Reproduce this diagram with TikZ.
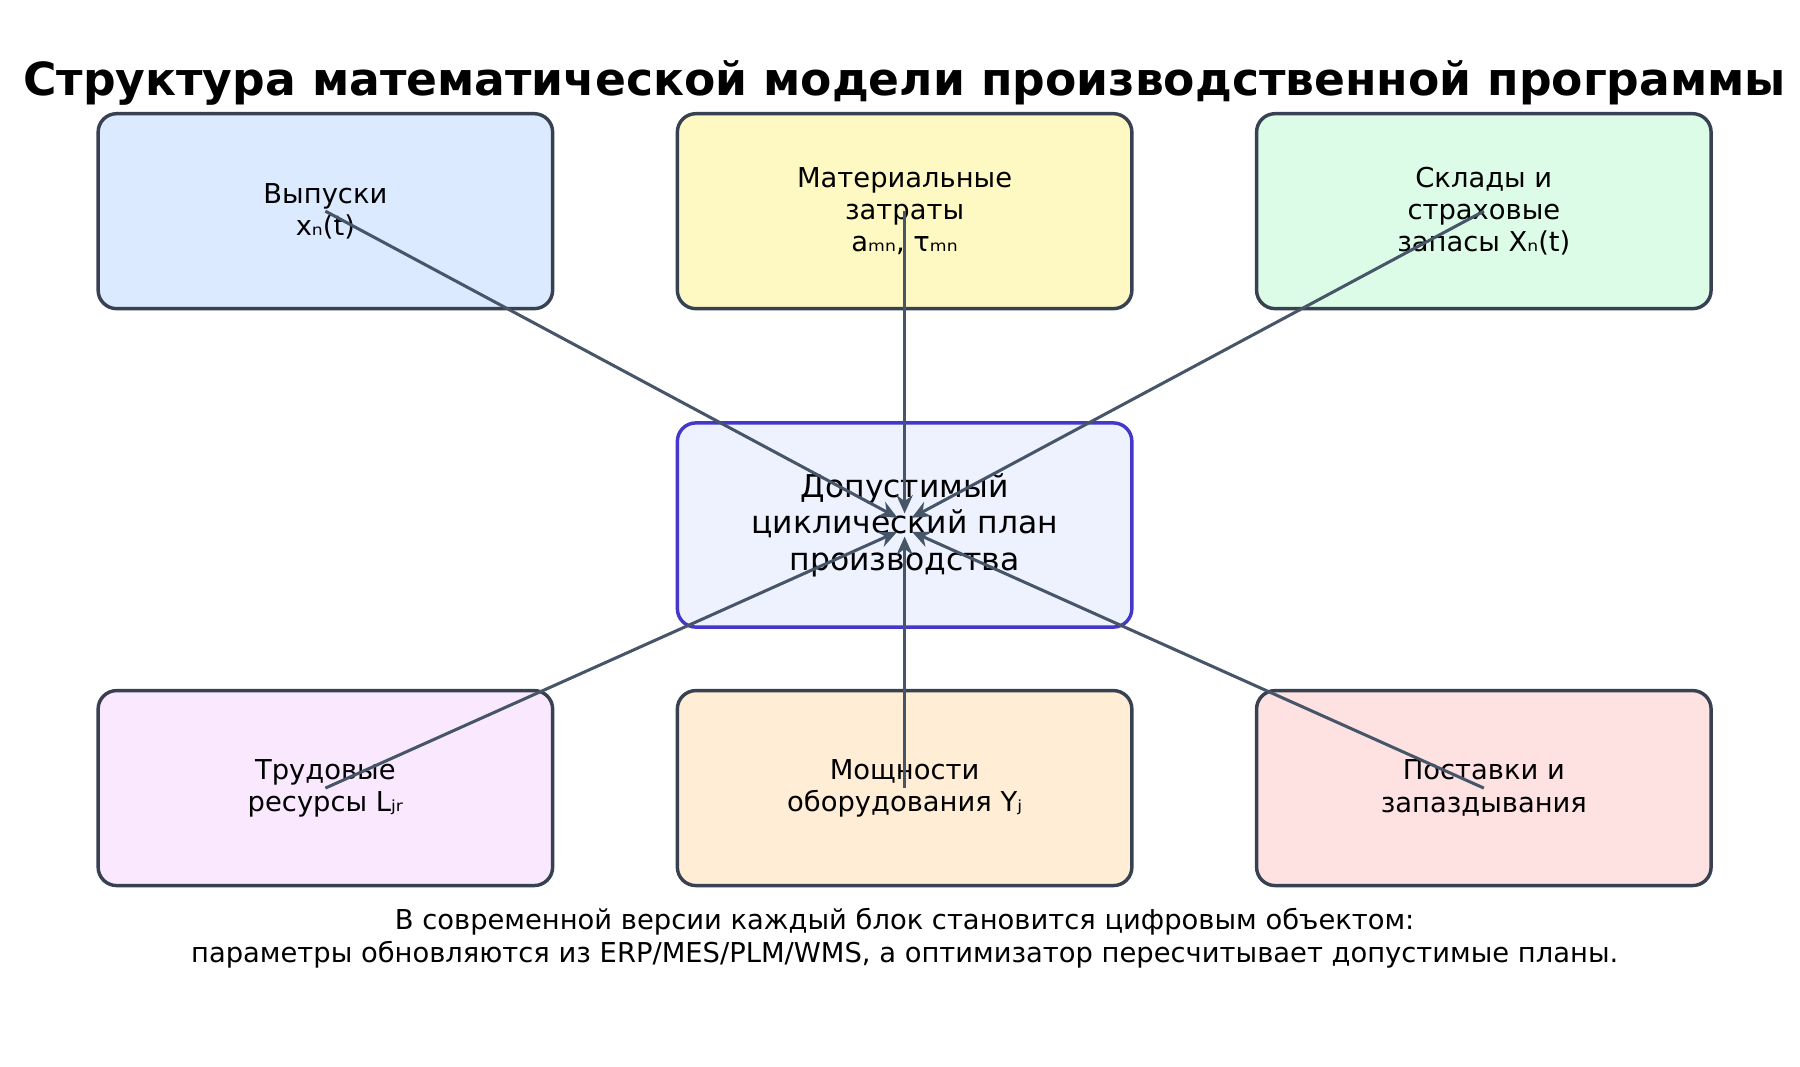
\documentclass[tikz,border=0pt]{standalone}
\usepackage{fontspec}
\setmainfont{DejaVu Sans}
\usetikzlibrary{arrows.meta}
\definecolor{edgec}{HTML}{374151}
\definecolor{arrc}{HTML}{475569}
\definecolor{planc}{HTML}{4338CA}
\begin{document}
\begin{tikzpicture}[x=0.02cm, y=-0.02cm,
  block/.style={rectangle, rounded corners=0.32cm, minimum width=7.88cm, minimum height=3.38cm, text centered, align=center, draw=edgec, line width=1.7pt, font=\fontsize{13.5}{16}\selectfont},
  link/.style={-{Stealth[length=9pt,width=8pt]}, draw=arrc, line width=1.5pt, shorten >=4pt}]
\useasboundingbox (0,0) rectangle (1560,924);
% Заголовок
\node (title) at (784,72) {\fontsize{22.5}{26}\selectfont\bfseries Структура математической модели производственной программы};

% Блоки модели
\node (outputs) [block, fill={rgb,255:red,219;green,234;blue,254}] at (282,183) {Выпуски\\xₙ(t)};
\node (materials) [block, fill={rgb,255:red,254;green,249;blue,195}] at (784,183) {Материальные\\затраты\\aₘₙ, τₘₙ};
\node (stocks) [block, fill={rgb,255:red,220;green,252;blue,231}] at (1286,183) {Склады и\\страховые\\запасы Xₙ(t)};
\node (plan) [block, minimum height=3.54cm, draw=planc, fill={rgb,255:red,238;green,242;blue,255}, font=\fontsize{15.5}{18}\selectfont] at (784,455) {Допустимый\\циклический план\\производства};
\node (labour) [block, fill={rgb,255:red,250;green,232;blue,255}] at (282,683) {Трудовые\\ресурсы Lⱼᵣ};
\node (capacity) [block, fill={rgb,255:red,255;green,237;blue,213}] at (784,683) {Мощности\\оборудования Yⱼ};
\node (supply) [block, fill={rgb,255:red,254;green,226;blue,226}] at (1286,683) {Поставки и\\запаздывания};

% Точки схождения
\coordinate (hubtop) at (784,452);
\coordinate (hubbot) at (784,458);

% Связи
\draw[link] (outputs.center) -- (hubtop);
\draw[link] (materials.center) -- (hubtop);
\draw[link] (stocks.center) -- (hubtop);
\draw[link] (labour.center) -- (hubbot);
\draw[link] (capacity.center) -- (hubbot);
\draw[link] (supply.center) -- (hubbot);

% Пояснение
\node (note) at (784,813) [align=center, font=\fontsize{13.5}{16}\selectfont] {В современной версии каждый блок становится цифровым объектом:\\параметры обновляются из ERP/MES/PLM/WMS, а оптимизатор пересчитывает допустимые планы.};
\end{tikzpicture}
\end{document}
